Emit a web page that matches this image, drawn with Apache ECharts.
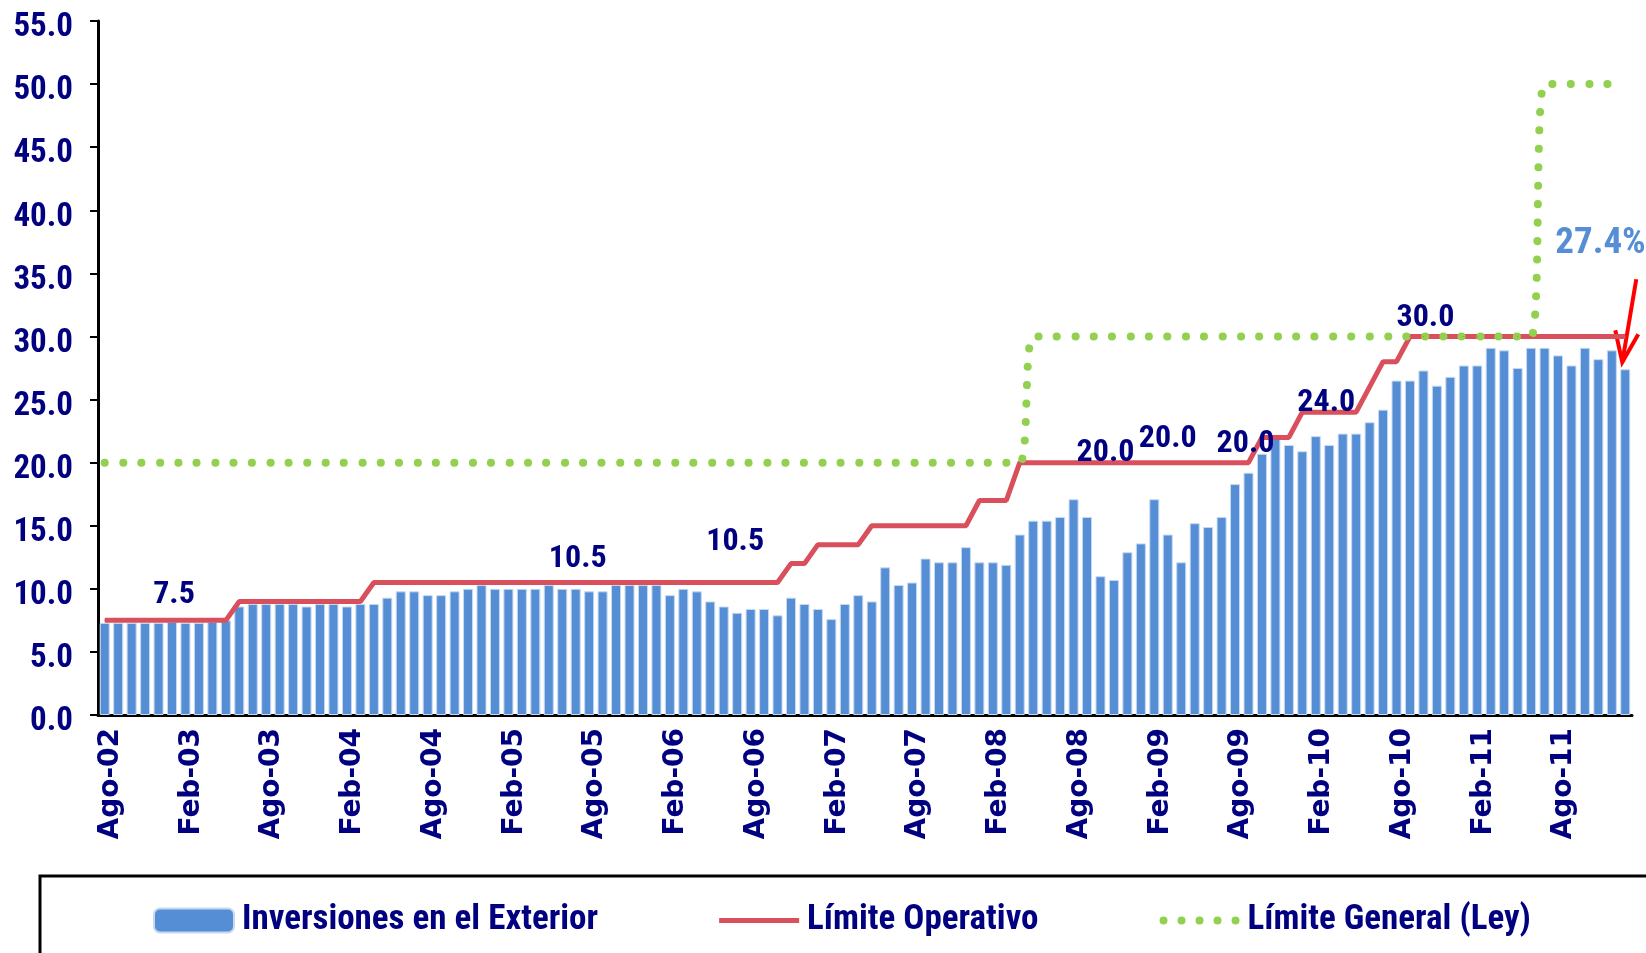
<!DOCTYPE html>
<html>

<head>
    <meta charset="utf-8">
    <script src="https://cdn.jsdelivr.net/npm/echarts@6.0.0/dist/echarts.min.js"></script>
    <title>Inversiones en el Exterior</title>
    <style>
        * {
            margin: 0;
            padding: 0;
        }

        #view {
            width: 1646px;
            height: 953px;
            background: #fff;
        }
    </style>
</head>

<body>
    <div id="view"></div>
    <script>
        // meses (eje x): Ago-02 ... Ene-12
        var meses = ['Ene', 'Feb', 'Mar', 'Abr', 'May', 'Jun', 'Jul', 'Ago', 'Sep', 'Oct', 'Nov', 'Dic'];
        var anioInicio = 2002;
        var mesInicio = 7;
        var totalMeses = 114;

        // Inversiones en el Exterior (%), una barra por mes
        var inversiones = [
            7.3, 7.3, 7.3, 7.3, 7.3, 7.4, 7.3, 7.3, 7.4, 7.5,
            8.6, 8.8, 8.8, 8.8, 8.8, 8.6, 8.8, 8.8, 8.6, 8.8,
            8.8, 9.3, 9.8, 9.8, 9.5, 9.5, 9.8, 10.0, 10.3, 10.0,
            10.0, 10.0, 10.0, 10.3, 10.0, 10.0, 9.8, 9.8, 10.3, 10.3,
            10.3, 10.3, 9.5, 10.0, 9.8, 9.0, 8.6, 8.1, 8.4, 8.4,
            7.9, 9.3, 8.8, 8.4, 7.6, 8.8, 9.5, 9.0, 11.7, 10.3,
            10.5, 12.4, 12.1, 12.1, 13.3, 12.1, 12.1, 11.9, 14.3, 15.4,
            15.4, 15.7, 17.1, 15.7, 11.0, 10.7, 12.9, 13.6, 17.1, 14.3,
            12.1, 15.2, 14.9, 15.7, 18.3, 19.2, 20.7, 21.9, 21.4, 20.9,
            22.1, 21.4, 22.3, 22.3, 23.2, 24.2, 26.5, 26.5, 27.3, 26.1,
            26.8, 27.7, 27.7, 29.1, 28.9, 27.5, 29.1, 29.1, 28.5, 27.7,
            29.1, 28.2, 28.9, 27.4
        ];

        // Límite Operativo
        var limiteOperativo = [
            7.5, 7.5, 7.5, 7.5, 7.5, 7.5, 7.5, 7.5, 7.5, 7.5,
            9.0, 9.0, 9.0, 9.0, 9.0, 9.0, 9.0, 9.0, 9.0, 9.0,
            10.5, 10.5, 10.5, 10.5, 10.5, 10.5, 10.5, 10.5, 10.5, 10.5,
            10.5, 10.5, 10.5, 10.5, 10.5, 10.5, 10.5, 10.5, 10.5, 10.5,
            10.5, 10.5, 10.5, 10.5, 10.5, 10.5, 10.5, 10.5, 10.5, 10.5,
            10.5, 12.0, 12.0, 13.5, 13.5, 13.5, 13.5, 15.0, 15.0, 15.0,
            15.0, 15.0, 15.0, 15.0, 15.0, 17.0, 17.0, 17.0, 20.0, 20.0,
            20.0, 20.0, 20.0, 20.0, 20.0, 20.0, 20.0, 20.0, 20.0, 20.0,
            20.0, 20.0, 20.0, 20.0, 20.0, 20.0, 22.0, 22.0, 22.0, 24.0,
            24.0, 24.0, 24.0, 24.0, 26.0, 28.0, 28.0, 30.0, 30.0, 30.0,
            30.0, 30.0, 30.0, 30.0, 30.0, 30.0, 30.0, 30.0, 30.0, 30.0,
            30.0, 30.0, 30.0, 30.0
        ];

        // Límite General (Ley)
        var limiteGeneral = [
            20, 20, 20, 20, 20, 20, 20, 20, 20, 20,
            20, 20, 20, 20, 20, 20, 20, 20, 20, 20,
            20, 20, 20, 20, 20, 20, 20, 20, 20, 20,
            20, 20, 20, 20, 20, 20, 20, 20, 20, 20,
            20, 20, 20, 20, 20, 20, 20, 20, 20, 20,
            20, 20, 20, 20, 20, 20, 20, 20, 20, 20,
            20, 20, 20, 20, 20, 20, 20, 20, 20, 30,
            30, 30, 30, 30, 30, 30, 30, 30, 30, 30,
            30, 30, 30, 30, 30, 30, 30, 30, 30, 30,
            30, 30, 30, 30, 30, 30, 30, 30, 30, 30,
            30, 30, 30, 30, 30, 30, 30, 50, 50, 50,
            50, 50, 50, 50
        ];

        // meses del límite operativo que llevan etiqueta
        var etiquetasIdx = [5, 35, 47, 74, 79, 85, 91, 98];
        var etiquetasOffset = [[2, -9], [2, -7], [-2, -24], [5, 7], [0, -7], [-3, -2], [-3, 7], [2, -2]];

        var ultimoTexto = '27.4%';

        var categorias = [];
        for (var i = 0; i < totalMeses; i++) {
            var m = (mesInicio + i) % 12;
            var a = anioInicio + Math.floor((mesInicio + i) / 12);
            categorias.push(meses[m] + '-' + String(a).slice(2));
        }

        var azul = '#000080';
        var narrow = "'Roboto Condensed', 'Liberation Sans Narrow', sans-serif";

        // iconos de la leyenda (las esquinas diminutas fijan la caja 80x24)
        var esquinas = 'M0,0 L0.01,0 L0,0.01 Z M80,24 L79.99,24 L80,23.99 Z ';
        var iconoLinea = 'path://' + esquinas + 'M0,9.5 L80,9.5 L80,14.5 L0,14.5 Z';
        var iconoPuntos = 'path://' + esquinas;
        for (var d = 0; d < 5; d++) {
            var cx = 4 + d * 18;
            iconoPuntos += 'M' + (cx - 4) + ',12 A4,4 0 1,1 ' + (cx + 4) + ',12 A4,4 0 1,1 ' + (cx - 4) + ',12 Z ';
        }

        var datosOperativo = limiteOperativo.map(function (v, i) {
            var k = etiquetasIdx.indexOf(i);
            if (k < 0) return v;
            return {
                value: v,
                label: {
                    show: true,
                    position: 'top',
                    distance: 0,
                    offset: etiquetasOffset[k],
                    formatter: function (p) { return Number(p.value).toFixed(1); },
                    color: azul,
                    fontFamily: narrow,
                    fontWeight: 'bold',
                    fontSize: 32
                }
            };
        });

        var view = echarts.init(document.getElementById('view'));
        var option = {
            backgroundColor: '#fff',
            animation: false,
            grid: {
                left: 98,
                right: 14,
                top: 21,
                bottom: 238,
                outerBoundsMode: 'none'
            },
            legend: {
                left: 153,
                top: 903,
                padding: 0,
                itemWidth: 80,
                itemHeight: 24,
                itemGap: 121,
                textStyle: {
                    color: azul,
                    fontFamily: narrow,
                    fontWeight: 'bold',
                    fontSize: 35,
                    padding: [6, 0, 0, 3]
                },
                data: [
                    { name: 'Inversiones en el Exterior' },
                    { name: 'Límite Operativo', icon: iconoLinea, itemStyle: { borderWidth: 0 } },
                    { name: 'Límite General (Ley)', icon: iconoPuntos, itemStyle: { borderWidth: 0 } }
                ]
            },
            xAxis: {
                type: 'category',
                data: categorias,
                boundaryGap: true,
                axisLine: { lineStyle: { color: '#000', width: 3 } },
                axisTick: { interval: 5, length: 8, lineStyle: { color: '#000', width: 2 } },
                axisLabel: {
                    interval: 5,
                    rotate: 90,
                    margin: 13,
                    formatter: function (v) { return '{a|' + v + '}'; },
                    rich: {
                        a: {
                            padding: [12, 0, 0, 0],
                            color: azul,
                            fontFamily: 'DejaVu Sans',
                            fontWeight: 'bold',
                            fontSize: 28
                        }
                    }
                }
            },
            yAxis: {
                type: 'value',
                min: 0,
                max: 55,
                interval: 5,
                splitLine: { show: false },
                axisLine: { show: true, lineStyle: { color: '#000', width: 3 } },
                axisTick: { show: true, length: 8, lineStyle: { color: '#000', width: 2 } },
                axisLabel: {
                    margin: 25,
                    formatter: function (v) { return '{a|' + v.toFixed(1) + '}'; },
                    rich: {
                        a: {
                            padding: [14, 0, 0, 0],
                            color: azul,
                            fontFamily: narrow,
                            fontWeight: 'bold',
                            fontSize: 33
                        }
                    }
                }
            },
            series: [{
                name: 'Inversiones en el Exterior',
                type: 'bar',
                barWidth: 10,
                itemStyle: {
                    color: '#558ED5',
                    borderColor: '#C6D9F1',
                    borderWidth: 1
                },
                data: inversiones
            }, {
                name: 'Límite Operativo',
                type: 'line',
                symbol: 'circle',
                symbolSize: 1,
                showSymbol: true,
                showAllSymbol: true,
                lineStyle: { color: '#D9505C', width: 5 },
                itemStyle: { color: '#D9505C', borderWidth: 0 },
                data: datosOperativo
            }, {
                name: 'Límite General (Ley)',
                type: 'line',
                symbol: 'none',
                smooth: 0.4,
                lineStyle: { color: '#92D050', width: 8, type: [0.1, 18.3], cap: 'round' },
                itemStyle: { color: '#92D050', borderWidth: 0 },
                data: limiteGeneral
            }]
        };
        view.setOption(option);

        // anotación del último dato: texto y flecha roja
        var n = inversiones.length - 1;
        var p = view.convertToPixel({ seriesIndex: 0 }, [n, inversiones[n]]);
        view.setOption({
            graphic: [{
                type: 'rect',
                silent: true,
                shape: { x: 40, y: 876, width: 1700, height: 200 },
                style: { fill: 'none', stroke: '#000', lineWidth: 3 }
            }, {
                type: 'text',
                silent: true,
                x: p[0] - 70,
                y: p[1] - 144,
                style: {
                    text: ultimoTexto,
                    fill: '#558ED5',
                    font: "bold 37px " + narrow,
                    textVerticalAlign: 'top'
                }
            }, {
                type: 'polyline',
                silent: true,
                shape: { points: [[p[0] + 11, p[1] - 90], [p[0] - 3, p[1] - 7]] },
                style: { stroke: '#FF0000', lineWidth: 4, fill: null }
            }, {
                type: 'polyline',
                silent: true,
                shape: { points: [[p[0] - 10, p[1] - 39], [p[0] - 3, p[1] - 7], [p[0] + 13, p[1] - 35]] },
                style: { stroke: '#FF0000', lineWidth: 4, fill: null }
            }]
        });
    </script>
</body>

</html>
